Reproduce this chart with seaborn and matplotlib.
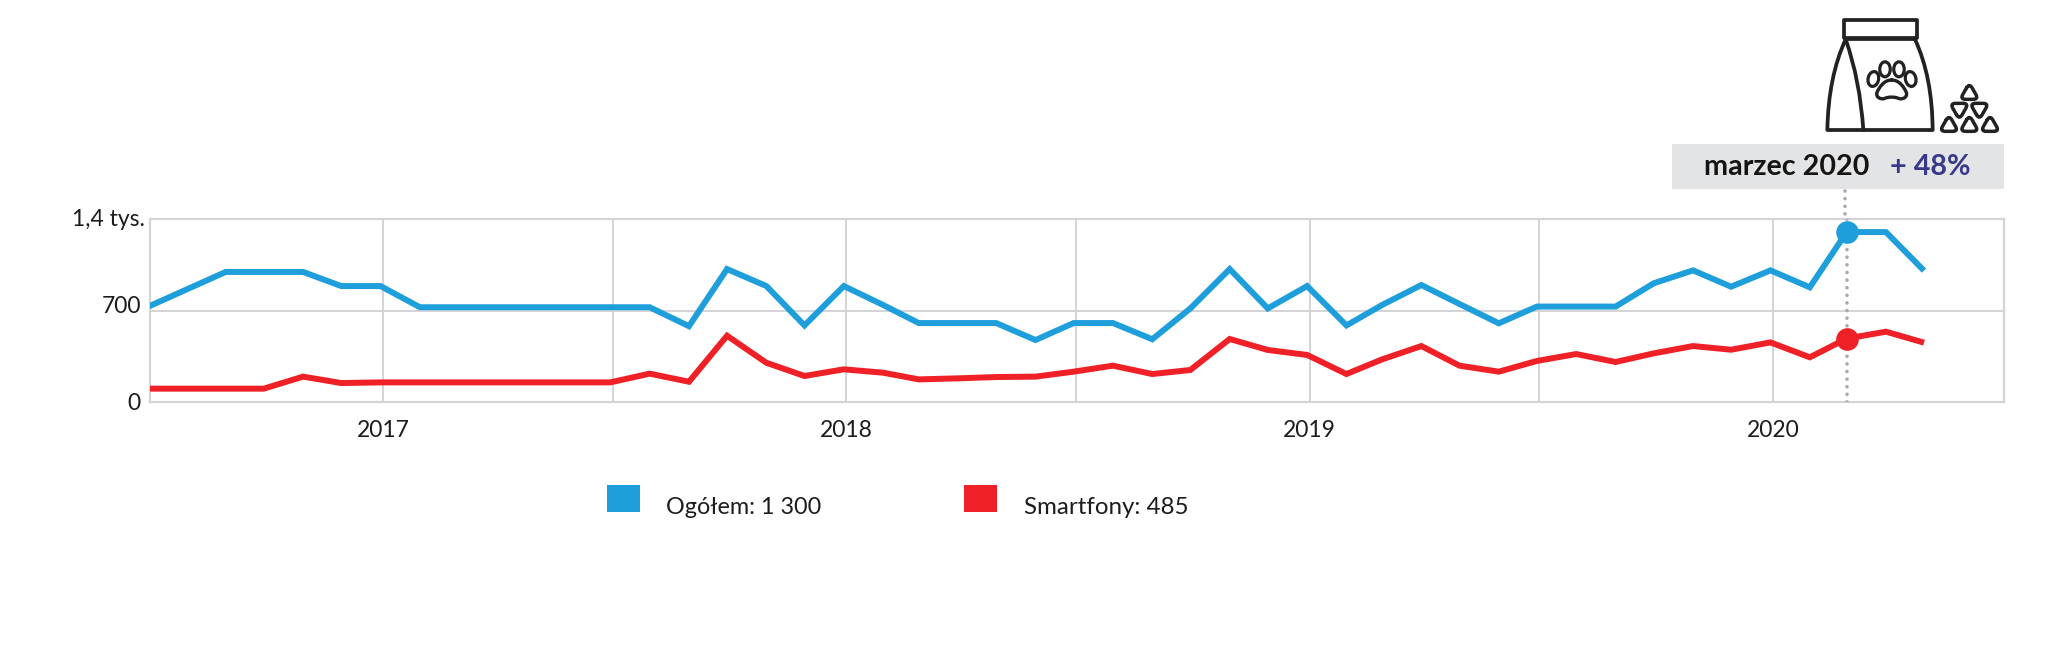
import matplotlib
matplotlib.use("Agg")
import matplotlib.pyplot as plt
import matplotlib.dates as mdates
from matplotlib.path import Path
from matplotlib.patches import PathPatch, Rectangle, Ellipse, Patch
from matplotlib.legend_handler import HandlerPatch
from matplotlib.transforms import ScaledTranslation
import numpy as np
import pandas as pd
import seaborn as sns

months = pd.date_range("2016-07-01", "2020-05-01", freq="MS") - pd.Timedelta(days=2)
ogolem = [725, 860, 995, 995, 995, 887, 887, 725, 725, 725, 725, 725, 725, 725, 580,
          1017, 887, 586, 887, 742, 604, 604, 604, 474, 604, 604, 480, 716, 1017, 716,
          887, 586, 742, 895, 750, 602, 730, 730, 730, 908, 1007, 882, 1007, 877, 1300, 1300, 1005]
smartfony = [102, 102, 102, 102, 194, 145, 150, 150, 150, 150, 150, 150, 150, 217, 155,
             507, 300, 199, 250, 224, 173, 181, 191, 194, 232, 278, 214, 245, 482, 398,
             360, 214, 326, 428, 278, 232, 314, 367, 306, 372, 428, 400, 456, 342, 485, 538, 454]
series_names = ["Ogółem: 1 300", "Smartfony: 485"]
series_colors = ["#1E9FDB", "#EF2026"]
y_ticks = [0, 700, 1400]
y_labels = ["0", "700", "1,4 tys."]
highlight_index = 44
band_month = "marzec 2020"
band_change = "+ 48%"

W, H = 2048, 647
sns.set_theme(style="white")
plt.rcParams["font.family"] = ["Lato", "DejaVu Sans"]
TXT = "#1c1c1c"
GRID = "#d4d4d6"
DOT = "#a9a9ad"

df = pd.DataFrame({"miesiąc": list(months) * 2,
                   "wartość": ogolem + smartfony,
                   "seria": [series_names[0]] * len(months) + [series_names[1]] * len(months)})

fig = plt.figure(figsize=(W / 100, H / 100), dpi=100, facecolor="white")
ax = fig.add_axes([149.5 / W, 1 - 402 / H, (2004 - 149.5) / W, (402 - 219) / H])
sns.lineplot(data=df, x="miesiąc", y="wartość", hue="seria", palette=series_colors,
             linewidth=4.3, ax=ax, legend=False, zorder=5,
             solid_joinstyle="miter", solid_capstyle="butt")
ax.set_xlim(pd.Timestamp("2016-07-01"), pd.Timestamp("2020-07-01"))
ax.set_ylim(0, 1400)
ax.set_xlabel("")
ax.set_ylabel("")
ax.xaxis.set_major_locator(mdates.YearLocator())
ax.xaxis.set_major_formatter(mdates.DateFormatter("%Y"))
ax.xaxis.set_minor_locator(mdates.MonthLocator(bymonth=[7]))
ax.set_yticks(y_ticks)
ax.set_yticklabels(y_labels)
ax.tick_params(axis="both", which="both", length=0)
ax.tick_params(axis="x", labelsize=16.5, labelcolor=TXT, pad=13)
ax.tick_params(axis="y", labelsize=16.5, labelcolor=TXT, pad=4)
ax.grid(True, which="major", color=GRID, linewidth=1.4)
ax.grid(True, which="minor", axis="x", color=GRID, linewidth=1.4)
ax.set_axisbelow(True)
for s in ax.spines.values():
    s.set_color(GRID)
    s.set_linewidth(1.6)
for lab, (dx, dy) in zip(ax.get_yticklabels(), [(-3, -2), (-3, 4), (1, -1)]):
    lab.set_va("center")
    lab.set_transform(lab.get_transform() + ScaledTranslation(dx / 100, dy / 100, fig.dpi_scale_trans))

# highlighted month
hm = months[highlight_index]
ax.plot([hm, hm], [0, 1400], color=DOT, lw=2.6, ls=(0, (0.01, 2.1)),
        dash_capstyle="round", zorder=4)
ax.scatter([hm], [ogolem[highlight_index]], s=265, color=series_colors[0], zorder=6, clip_on=False, linewidths=0)
ax.scatter([hm], [smartfony[highlight_index]], s=265, color=series_colors[1], zorder=6, clip_on=False, linewidths=0)

# overlay in pixel coordinates for band and icon
ov = fig.add_axes([0, 0, 1, 1], facecolor="none")
ov.set_xlim(0, W)
ov.set_ylim(H, 0)
ov.axis("off")
ov.add_patch(Rectangle((1672, 144), 2004 - 1672, 45, fc="#E3E4E6", ec="none"))
ov.plot([1845, 1845], [191, 219], color=DOT, lw=2.6, ls=(0, (0.01, 2.1)), dash_capstyle="round")
ov.text(1704, 167, band_month, fontsize=20.6, fontweight="bold", color="#141414", ha="left", va="center")
ov.text(1890, 167, band_change, fontsize=20.6, fontweight="bold", color="#39398A", ha="left", va="center")

def zx(x): return 1700 + x / 3
def zy(y): return y / 3
ICON = "#222222"
LW = 2.7
def stroke(verts, codes, lw=LW):
    ov.add_patch(PathPatch(Path([(zx(a), zy(b)) for a, b in verts], codes), fc="none", ec=ICON,
                           lw=lw, joinstyle="round", capstyle="round"))
M, L, C3, C4, CL = Path.MOVETO, Path.LINETO, Path.CURVE3, Path.CURVE4, Path.CLOSEPOLY
stroke([(433, 60), (650, 60), (650, 115), (433, 115), (433, 60)], [M, L, L, L, CL])
stroke([(437, 118), (385, 230), (382, 390), (698, 390), (697, 230), (645, 118)], [M, C3, C3, L, C3, C3])
stroke([(437, 118), (645, 118)], [M, L])
stroke([(437, 118), (480, 240), (490, 390)], [M, C3, C3])
for cx, cy, w, h, ang in [(520, 237, 10.5, 15, 12), (555, 208, 10.5, 15, 0), (597, 208, 10.5, 15, 0), (632, 237, 10.5, 15, -12)]:
    ov.add_patch(Ellipse((zx(cx), zy(cy)), w, h, angle=ang, fc="none", ec=ICON, lw=LW * 0.85))
stroke([(575, 240), (598, 240), (612, 262), (618, 275),
        (626, 292), (606, 300), (595, 295),
        (585, 290), (565, 290), (555, 295),
        (544, 300), (524, 292), (532, 275),
        (538, 262), (552, 240), (575, 240)],
       [M] + [C4] * 15, lw=LW * 0.9)

def rounded_triangle(cx, cy, up, lw=2.5):
    pts = [(cx, cy - 29 * up), (cx + 28, cy + 20 * up), (cx - 28, cy + 20 * up)]
    verts, codes = [], []
    for k in range(3):
        p, prev, nxt = np.array(pts[k]), np.array(pts[k - 1]), np.array(pts[(k + 1) % 3])
        a = p + (prev - p) * 0.3
        b = p + (nxt - p) * 0.3
        verts += [tuple(a), tuple(p), tuple(b)]
        codes += [L if k else M, C3, C3]
    verts.append(verts[0])
    codes.append(L)
    stroke(verts, codes, lw=lw)
for cx, cy, up in [(808, 278, 1), (778, 330, -1), (838, 330, -1), (747, 374, 1), (808, 374, 1), (870, 374, 1)]:
    rounded_triangle(cx, cy, up)

# legend
def square(legend, orig_handle, xdescent, ydescent, width, height, fontsize):
    return Rectangle((-xdescent, -ydescent + 5.5), width, height)
handles = [Patch(fc=c, ec="none", label=n) for c, n in zip(series_colors, series_names)]
leg = fig.legend(handles=handles, loc="center left", bbox_to_anchor=(606.5 / W, 1 - 506 / H),
                 frameon=False, ncol=2, fontsize=16.8, handlelength=1.42, handleheight=1.42,
                 handletextpad=1.14, columnspacing=6.1, labelcolor=TXT, borderpad=0, borderaxespad=0,
                 handler_map={Patch: HandlerPatch(patch_func=square)})
leg.get_texts()[1].set_fontsize(17.4)

fig.savefig("out.png", dpi=100, facecolor="white")
